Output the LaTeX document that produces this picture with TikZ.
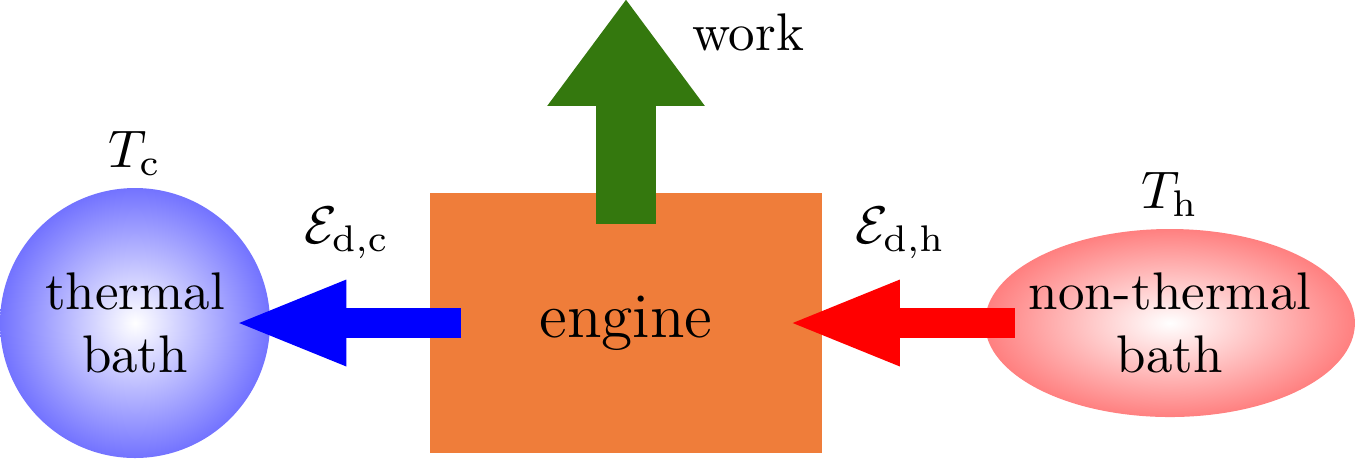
\documentclass[tikz,border=0pt]{standalone}
\usetikzlibrary{arrows.meta,shapes.geometric}

\definecolor{engineorange}{RGB}{239,125,58}
\definecolor{workgreen}{RGB}{52,120,14}

\begin{document}
\begin{tikzpicture}[x=1cm,y=1cm,
  bath/.style={shade,inner color=white,inner sep=0pt,align=center},
  temp/.style={above=1pt,inner sep=1pt},
  flux/.style={line width=0.199cm,-{Triangle[length=0.755cm,width=0.511cm]}},
  fluxlabel/.style={midway,above=6pt,text=black}]
\useasboundingbox (0,0) rectangle (9,3.053);
% the two baths and the engine
\node[bath,circle,outer color=blue!55,minimum size=1.792cm] (cold) at (0.896,0.909) {thermal\\bath};
\node[bath,ellipse,outer color=red!50,minimum width=2.456cm,minimum height=1.248cm,
  label={[align=center]center:non-thermal\\bath}] (hot) at (7.765,0.909) {};
\node[fill=engineorange,minimum width=2.602cm,minimum height=1.726cm,font=\large] (engine) at (4.155,0.909) {engine};
\node[temp] (Tc) at (cold.north) {$T_\mathrm{c}$};
\node[temp] (Th) at (hot.north) {$T_\mathrm{h}$};
% energy flows
\coordinate (out) at ([yshift=1.281cm]engine.north);
\draw[flux,blue] ([xshift=0.212cm]engine.west) -- node[fluxlabel] {$\mathcal{E}_\mathrm{d,c}$} ([xshift=-0.255cm]cold.east);
\draw[flux,red] ([xshift=0.205cm]hot.west) -- node[fluxlabel] {$\mathcal{E}_\mathrm{d,h}$} ([xshift=-0.245cm]engine.east);
\draw[line width=0.398cm,workgreen,-{Triangle[length=0.71cm,width=0.996cm]}] ([yshift=-0.212cm]engine.north) -- node[pos=0.85,right=3.5pt,text=black] {work} (out);
\end{tikzpicture}
\end{document}
